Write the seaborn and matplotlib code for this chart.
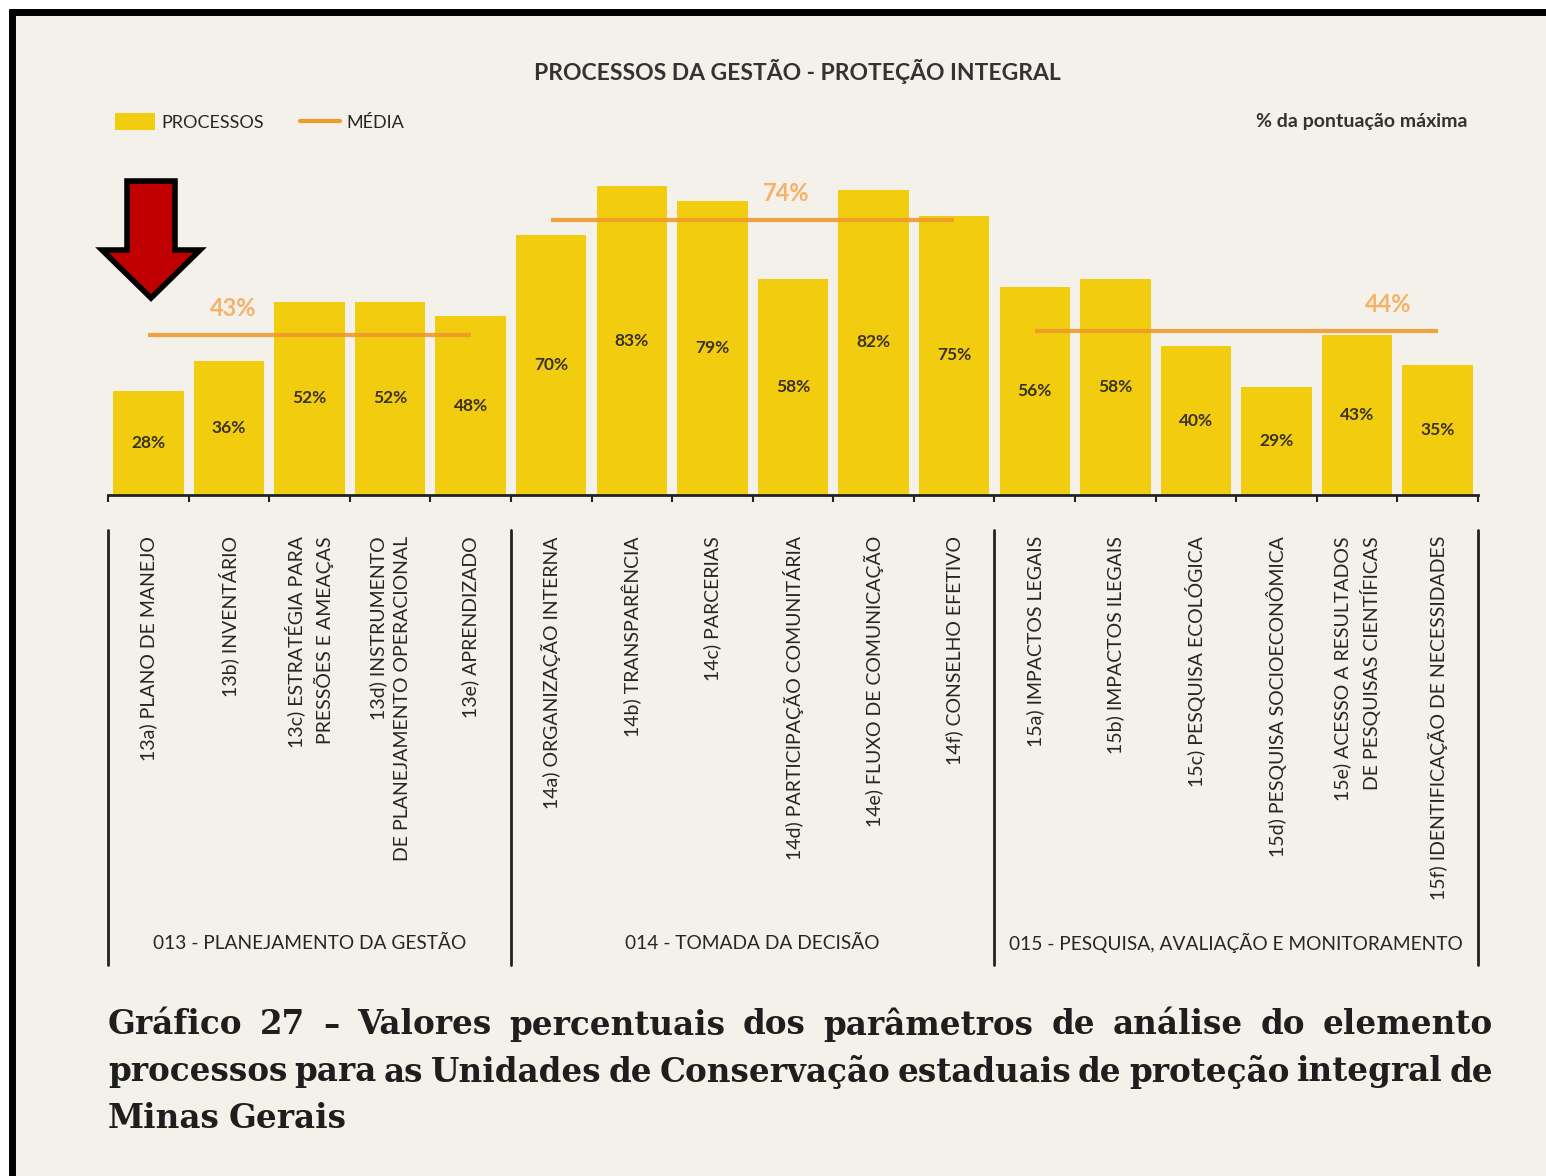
import numpy as np
import pandas as pd
import matplotlib
matplotlib.use("Agg")
import matplotlib.pyplot as plt
import seaborn as sns
from matplotlib.patches import Polygon, Rectangle, Patch
from matplotlib.lines import Line2D
from matplotlib.transforms import blended_transform_factory

# ---------------- data ----------------
categories = [
    "13a) PLANO DE MANEJO",
    "13b) INVENTÁRIO",
    "13c) ESTRATÉGIA PARA\nPRESSÕES E AMEAÇAS",
    "13d) INSTRUMENTO\nDE PLANEJAMENTO OPERACIONAL",
    "13e) APRENDIZADO",
    "14a) ORGANIZAÇÃO INTERNA",
    "14b) TRANSPARÊNCIA",
    "14c) PARCERIAS",
    "14d) PARTICIPAÇÃO COMUNITÁRIA",
    "14e) FLUXO DE COMUNICAÇÃO",
    "14f) CONSELHO EFETIVO",
    "15a) IMPACTOS LEGAIS",
    "15b) IMPACTOS ILEGAIS",
    "15c) PESQUISA ECOLÓGICA",
    "15d) PESQUISA SOCIOECONÔMICA",
    "15e) ACESSO A RESULTADOS\nDE PESQUISAS CIENTÍFICAS",
    "15f) IDENTIFICAÇÃO DE NECESSIDADES",
]
values = [28, 36, 52, 52, 48, 70, 83, 79, 58, 82, 75, 56, 58, 40, 29, 43, 35]
group_names = [
    "013 - PLANEJAMENTO DA GESTÃO",
    "014 - TOMADA DA DECISÃO",
    "015 - PESQUISA, AVALIAÇÃO E MONITORAMENTO",
]
group_sizes = [5, 6, 6]
group_means = [43, 74, 44]

title = "PROCESSOS DA GESTÃO - PROTEÇÃO INTEGRAL"
caption_lines = [
    "Gráfico 27 – Valores percentuais dos parâmetros de análise do elemento",
    "processos para as Unidades de Conservação estaduais de proteção integral de",
    "Minas Gerais",
]

# ---------------- style ----------------
W, H = 1546, 1176
BG = "#F4F1EA"
BAR = "#F2CC0E"
MEANLINE = "#EE9A2E"
MEANTXT = "#F4B26A"
DARK = "#262626"
sans = ["Lato", "DejaVu Sans"]
serif = ["DejaVu Serif"]

sns.set_theme(style="white")
plt.rcParams["font.family"] = sans

fig = plt.figure(figsize=(W / 100, H / 100), dpi=100, facecolor=BG)

def fx(px):
    return px / W

def fy(py):
    return 1 - py / H

# main axes: baseline at y=495 px, x from 108 to 1478 px
ymax = 90
ax = fig.add_axes([fx(108), fy(495), fx(1478) - fx(108), fy(495 - 3.72 * ymax) - fy(495)])
ax.set_facecolor("none")

df = pd.DataFrame({"cat": categories, "val": values})
sns.barplot(data=df, x="cat", y="val", color=BAR, saturation=1, width=0.875,
            linewidth=0, edgecolor="none", ax=ax)
ax.set_xlim(-0.5, len(categories) - 0.5)
ax.set_ylim(0, ymax)
ax.set_xlabel("")
ax.set_ylabel("")
ax.set_yticks([])
bounds = np.arange(-0.5, len(categories), 1.0)
ax.set_xticks(bounds)
ax.set_xticklabels([])
ax.tick_params(axis="x", length=5, width=1.5, direction="out", color="#222222", bottom=True)
for s in ["left", "right", "top"]:
    ax.spines[s].set_visible(False)
ax.spines["bottom"].set_linewidth(2)
ax.spines["bottom"].set_color("#222222")

# value labels centered inside bars
for i, v in enumerate(values):
    ax.text(i, v / 2, f"{v}%", ha="center", va="center", fontsize=12.5,
            fontweight="bold", color="#3A3222")

# mean lines per group
start = 0
mean_label_x = [1.05, 7.92, 15.38]
for gi, (n, m) in enumerate(zip(group_sizes, group_means)):
    ax.hlines(m, start, start + n - 1, color=MEANLINE, lw=3, alpha=0.9, zorder=3)
    ax.annotate(f"{m}%", xy=(mean_label_x[gi], m), xytext=(0, 19),
                textcoords="offset points", ha="center", va="center",
                fontsize=17, fontweight="bold", color=MEANTXT)
    start += n

# category labels (rotated) and group separators
tr = blended_transform_factory(ax.transData, fig.transFigure)
for i, c in enumerate(categories):
    fig.text(i, fy(536), c, transform=tr, rotation=90, ha="center", va="top",
             multialignment="right", fontsize=14, color=DARK, linespacing=1.5)

start = 0
seps = [-0.5]
for n in group_sizes:
    start += n
    seps.append(start - 0.5)
for s in seps:
    fig.add_artist(Line2D([s, s], [fy(530), fy(965)], transform=tr, color="#222222", lw=2))
start = 0
for name, n in zip(group_names, group_sizes):
    cx = start + (n - 1) / 2
    fig.text(cx, fy(943), name, transform=tr, ha="center", va="center",
             fontsize=13.8, color=DARK)
    start += n

# title
fig.text(fx(797), fy(71), title, ha="center", va="center", fontsize=16.5,
         fontweight="bold", color="#333333")

# legend
handles = [Patch(facecolor=BAR, edgecolor="none", label="PROCESSOS"),
           Line2D([0], [0], color=MEANLINE, lw=3, label="MÉDIA")]
fig.legend(handles=handles, loc="center left", bbox_to_anchor=(fx(99), fy(122)),
           ncol=2, frameon=False, fontsize=13, handlelength=2.2, handleheight=1.0,
           columnspacing=2.0, handletextpad=0.35, labelcolor=DARK)

fig.text(fx(1467), fy(122), "% da pontuação máxima", ha="right", va="center",
         fontsize=14, fontweight="bold", color="#333333")

# red arrow annotation
arrow_px = [(127, 181), (175, 181), (175, 250), (200, 250), (151, 298),
            (102, 250), (127, 250)]
fig.add_artist(Polygon([(fx(x), fy(y)) for x, y in arrow_px], closed=True,
                       transform=fig.transFigure, facecolor="#C00000",
                       edgecolor="black", lw=4, joinstyle="miter"))

# frame: white margin + black border
fig.add_artist(Rectangle((0, 0), fx(9), 1, transform=fig.transFigure,
                         facecolor="white", edgecolor="none", zorder=0))
fig.add_artist(Rectangle((0, fy(9)), 1, 1 - fy(9), transform=fig.transFigure,
                         facecolor="white", edgecolor="none", zorder=0))
fig.add_artist(Line2D([fx(12), fx(12)], [0, fy(9)], transform=fig.transFigure,
                      color="black", lw=5, solid_capstyle="butt"))
fig.add_artist(Line2D([fx(9), 1], [fy(12), fy(12)], transform=fig.transFigure,
                      color="black", lw=5, solid_capstyle="butt"))

# caption, justified
renderer = fig.canvas.get_renderer()
x0, x1 = 108, 1493
cap_y = [1025, 1072, 1118]
cap_size = 24
# shrink font until every justified line fits
while True:
    cap_kw = dict(fontsize=cap_size, fontweight="bold", color="#1E1E1E",
                  family=serif, va="center")
    ok = True
    for line in caption_lines[:-1]:
        words = line.split(" ")
        t = [fig.text(0, 0, w, **cap_kw) for w in words]
        wsum = sum(o.get_window_extent(renderer).width for o in t)
        for o in t:
            o.remove()
        if (x1 - x0 - wsum) / (len(words) - 1) < 7:
            ok = False
    if ok or cap_size < 14:
        break
    cap_size -= 0.5

for li, (line, yy) in enumerate(zip(caption_lines, cap_y)):
    words = line.split(" ")
    objs = [fig.text(0, fy(yy), w, **cap_kw) for w in words]
    widths = [o.get_window_extent(renderer).width for o in objs]
    if li < len(caption_lines) - 1 and len(words) > 1:
        gap = ((x1 - x0) - sum(widths)) / (len(words) - 1)
    else:
        gap = 9
    x = x0
    for o, w in zip(objs, widths):
        o.set_x(fx(x))
        x += w + gap

fig.savefig("out.png", dpi=100, facecolor=BG)
